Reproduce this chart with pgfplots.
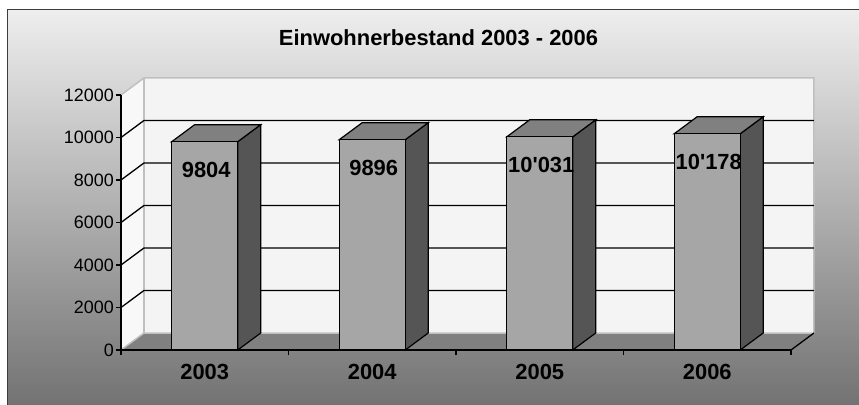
\documentclass[border=0pt]{standalone}
\usepackage{pgfplots}
\usepackage{pgfplotstable}
\pgfplotsset{compat=1.18}
\usepackage{fontspec}
\setmainfont{Liberation Sans}[Ligatures=TeXOff]
\newfontfamily\heavy{Liberation Sans Bold}[Ligatures=TeXOff]

\definecolor{bgtop}{HTML}{EEEEEE}
\definecolor{bgmid}{HTML}{B9B9B9}
\definecolor{bgbot}{HTML}{707070}
\definecolor{frame}{HTML}{3C3C3C}
\definecolor{backwall}{HTML}{F4F4F4}
\definecolor{sidewall}{HTML}{F8F8F8}
\definecolor{floorc}{HTML}{808080}
\definecolor{walledge}{HTML}{C0C0C0}
\definecolor{barfront}{HTML}{A6A6A6}
\definecolor{bartop}{HTML}{808080}
\definecolor{barside}{HTML}{555555}

% population per year; label as printed on the bar
\pgfplotstableread{
x y label
0 9804 9804
1 9896 9896
2 10031 10'031
3 10178 10'178
}\einwohner

\begin{document}
\begin{tikzpicture}[x=1bp,y=1bp]
\useasboundingbox (0,0) rectangle (859,404);
\clip (0,0) rectangle (859,404);
\fill[white] (0,0) rectangle (859,404);
\shade[top color=bgtop, middle color=bgmid, bottom color=bgbot] (7.5,-10) rectangle (870,394.7);
\draw[line width=1.2bp, draw=frame] (7.5,-10) rectangle (870,394.7);
\node[font=\heavy\fontsize{22}{26}\selectfont, text=black] at (438.5,366) {Einwohnerbestand 2003 - 2006};

% depth offset of the pseudo-3D walls: dx = 0.137 (x units), dy = 800 (y units)
\begin{axis}[
  at={(121bp,54bp)}, anchor=south west,
  scale only axis, width=670bp, height=255bp,
  xmin=-0.5, xmax=3.5, ymin=0, ymax=12000,
  clip=false, axis on top,
  axis x line=bottom, axis y line=left,
  axis line style={-, line width=1.3bp, black},
  tick align=outside, major tick length=5bp,
  tick style={black, line width=1.2bp},
  ytick={0,2000,...,12000},
  scaled y ticks=false,
  /pgf/number format/1000 sep={},
  /pgf/number format/assume math mode=true,
  yticklabel style={font=\fontsize{18}{18}\selectfont, inner sep=2bp},
  xtick={-0.5,0.5,1.5,2.5,3.5}, xticklabels={},
  extra x ticks={0,1,2,3},
  extra x tick labels={2003,2004,2005,2006},
  extra x tick style={tick style={draw=none},
    xticklabel style={font=\heavy\fontsize{22}{22}\selectfont, anchor=base, yshift=-24bp}},
]
% walls and floor
\addplot[fill=backwall, draw=none] coordinates {(-0.363,800) (3.637,800) (3.637,12800) (-0.363,12800)} -- cycle;
\addplot[fill=sidewall, draw=none] coordinates {(-0.5,0) (-0.363,800) (-0.363,12800) (-0.5,12000)} -- cycle;
\addplot[fill=floorc, draw=none] coordinates {(-0.5,0) (3.5,0) (3.637,800) (-0.363,800)} -- cycle;
\addplot[draw=walledge, line width=1.5bp] coordinates {(-0.5,12000) (-0.363,12800) (3.637,12800) (3.637,800) (-0.363,800) (-0.5,0)};
\addplot[draw=walledge, line width=1.5bp] coordinates {(-0.363,12800) (-0.363,800)};
\addplot[draw=black, line width=1.3bp] coordinates {(3.5,0) (3.637,800)};
% gridlines across side wall and back wall
\addplot[draw=black, line width=1.3bp] coordinates {(-0.5,2000) (-0.363,2800) (3.637,2800)};
\addplot[draw=black, line width=1.3bp] coordinates {(-0.5,4000) (-0.363,4800) (3.637,4800)};
\addplot[draw=black, line width=1.3bp] coordinates {(-0.5,6000) (-0.363,6800) (3.637,6800)};
\addplot[draw=black, line width=1.3bp] coordinates {(-0.5,8000) (-0.363,8800) (3.637,8800)};
\addplot[draw=black, line width=1.3bp] coordinates {(-0.5,10000) (-0.363,10800) (3.637,10800)};
% side faces of the bars
\addplot[fill=barside, draw=black, line width=1.2bp] coordinates {(0.197,0) (0.334,800) (0.334,10604) (0.197,9804)} -- cycle;
\addplot[fill=barside, draw=black, line width=1.2bp] coordinates {(1.197,0) (1.334,800) (1.334,10696) (1.197,9896)} -- cycle;
\addplot[fill=barside, draw=black, line width=1.2bp] coordinates {(2.197,0) (2.334,800) (2.334,10831) (2.197,10031)} -- cycle;
\addplot[fill=barside, draw=black, line width=1.2bp] coordinates {(3.197,0) (3.334,800) (3.334,10978) (3.197,10178)} -- cycle;
% top faces of the bars
\addplot[fill=bartop, draw=black, line width=1.2bp] coordinates {(-0.197,9804) (-0.060,10604) (0.334,10604) (0.197,9804)} -- cycle;
\addplot[fill=bartop, draw=black, line width=1.2bp] coordinates {(0.803,9896) (0.940,10696) (1.334,10696) (1.197,9896)} -- cycle;
\addplot[fill=bartop, draw=black, line width=1.2bp] coordinates {(1.803,10031) (1.940,10831) (2.334,10831) (2.197,10031)} -- cycle;
\addplot[fill=bartop, draw=black, line width=1.2bp] coordinates {(2.803,10178) (2.940,10978) (3.334,10978) (3.197,10178)} -- cycle;
% front faces with value labels
\addplot[ybar, bar width=66bp, fill=barfront, draw=black, line width=1.2bp,
  nodes near coords, point meta=explicit symbolic,
  every node near coord/.append style={anchor=center, yshift=-28bp, xshift=1.5bp,
    font=\heavy\fontsize{22}{22}\selectfont, text=black}]
  table[x=x, y=y, meta=label] {\einwohner};
\end{axis}
\end{tikzpicture}
\end{document}
